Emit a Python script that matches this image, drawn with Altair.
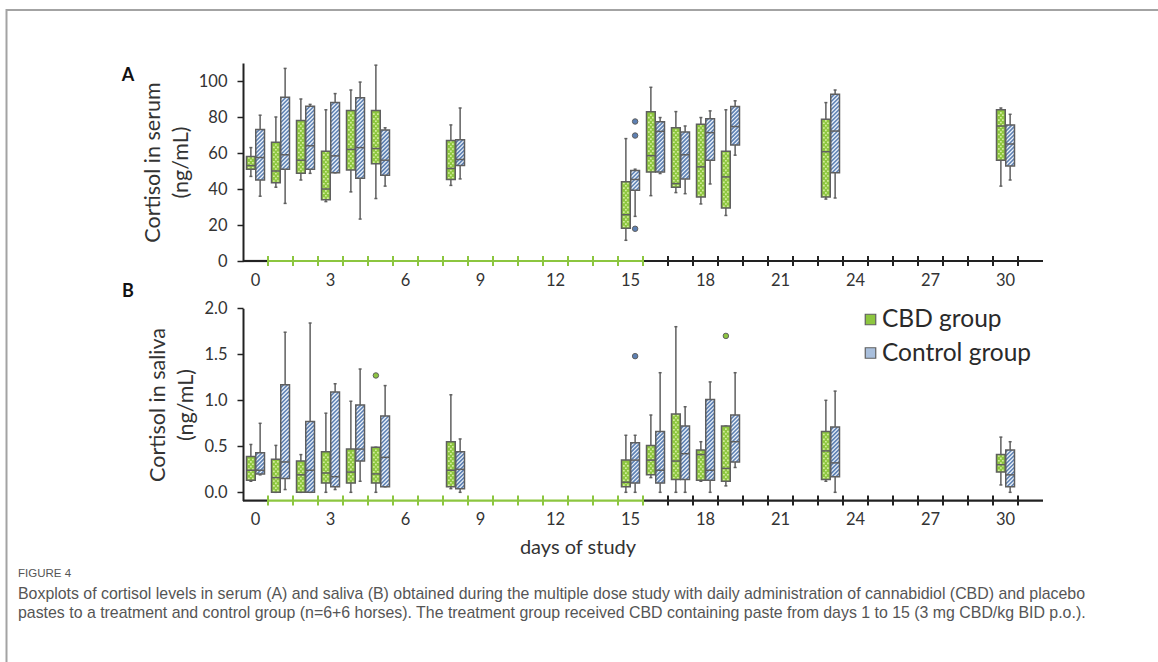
import altair as alt
import pandas as pd

# ---------------------------------------------------------------------------
# Sampling days and groups
# ---------------------------------------------------------------------------
DAYS = [0, 1, 2, 3, 4, 5, 8, 15, 16, 17, 18, 19, 23, 30]
GROUPS = ["CBD group", "Control group"]
TREATMENT_DAYS = list(range(1, 16))  # CBD paste given on days 1..15
X_LABELS = [0, 3, 6, 9, 12, 15, 18, 21, 24, 27, 30]

# ---- Serum cortisol (ng/mL): whisker low, Q1, median, Q3, whisker high ----
serum_cbd_low = [47, 41, 45, 33, 38.4, 34.7, 42, 11.5, 36.3, 38, 31.7, 25.3, 34.4, 41.6]
serum_cbd_q1 = [51, 43.5, 48.7, 34, 50.6, 54, 45.3, 18.2, 49.4, 41, 35.6, 29.4, 35.6, 56]
serum_cbd_med = [53, 50, 56, 40, 62, 62.5, 51.4, 25.7, 58.5, 43, 52.3, 46.7, 60.7, 75]
serum_cbd_q3 = [58, 66, 78, 61, 83.6, 83.6, 67, 44, 82.9, 74, 76, 61, 78.8, 84]
serum_cbd_high = [63, 80, 90, 84, 95, 108.8, 75.6, 68, 96.5, 83, 79.7, 84, 88, 85]

serum_ctl_low = [36, 32, 48.7, 49, 23.3, 41.6, 45.6, 24.8, 48.6, 37.4, 42.8, 58.8, 35, 45]
serum_ctl_q1 = [45, 51, 51, 49, 46, 47.6, 53, 39.3, 49.4, 45.6, 56, 64.4, 49, 52.8]
serum_ctl_med = [57.5, 59, 64, 58.4, 63, 56, 56.4, 45.3, 72, 59, 71.3, 74.7, 72.2, 65]
serum_ctl_q3 = [73, 91, 86, 88, 90.7, 72.8, 67.4, 50.3, 77.3, 71.7, 79, 85.8, 92.7, 75.6]
serum_ctl_high = [81, 107, 87, 93, 99.4, 74, 85, 51, 79.7, 75, 83.4, 89, 95, 81.5]

serum_out_day = [15, 15, 15]
serum_out_group = ["Control group", "Control group", "Control group"]
serum_out_value = [77.5, 69.7, 17.9]

# ---- Saliva cortisol (ng/mL) ----
saliva_cbd_low = [0.12, 0, 0, 0, 0, 0, 0.04, 0, 0.16, 0, 0.12, 0.07, 0.12, 0.08]
saliva_cbd_q1 = [0.13, 0, 0, 0.1, 0.1, 0.1, 0.06, 0.06, 0.19, 0.14, 0.13, 0.12, 0.14, 0.22]
saliva_cbd_med = [0.24, 0.16, 0.19, 0.21, 0.22, 0.2, 0.24, 0.11, 0.35, 0.34, 0.41, 0.26, 0.45, 0.3]
saliva_cbd_q3 = [0.39, 0.36, 0.34, 0.44, 0.47, 0.49, 0.55, 0.35, 0.51, 0.85, 0.46, 0.72, 0.66, 0.41]
saliva_cbd_high = [0.52, 0.51, 0.41, 0.86, 0.99, 0.49, 1.06, 0.62, 0.84, 1.8, 0.55, 0.72, 1.0, 0.6]

saliva_ctl_low = [0.19, 0.03, 0, 0.03, 0.12, 0.06, 0, 0, 0, 0, 0, 0.27, 0, 0]
saliva_ctl_q1 = [0.2, 0.15, 0, 0.06, 0.34, 0.06, 0.04, 0.1, 0.1, 0.14, 0.13, 0.33, 0.17, 0.06]
saliva_ctl_med = [0.24, 0.33, 0.24, 0.17, 0.47, 0.38, 0.25, 0.35, 0.24, 0.42, 0.24, 0.55, 0.32, 0.19]
saliva_ctl_q3 = [0.43, 1.17, 0.77, 1.09, 0.95, 0.83, 0.44, 0.54, 0.66, 0.72, 1.01, 0.84, 0.71, 0.46]
saliva_ctl_high = [0.75, 1.74, 1.84, 1.18, 1.34, 1.16, 0.58, 0.62, 1.3, 0.93, 1.2, 1.3, 1.1, 0.55]

saliva_out_day = [5, 15, 19]
saliva_out_group = ["CBD group", "Control group", "CBD group"]
saliva_out_value = [1.27, 1.48, 1.7]

CAPTION_HEAD = "FIGURE 4"
CAPTION_LINES = [
    "Boxplots of cortisol levels in serum (A) and saliva (B) obtained during the multiple dose study "
    "with daily administration of cannabidiol (CBD) and placebo",
    "pastes to a treatment and control group (n=6+6 horses). The treatment group received CBD "
    "containing paste from days 1 to 15 (3 mg CBD/kg BID p.o.).",
]

# ---------------------------------------------------------------------------
# Layout / style
# ---------------------------------------------------------------------------
FONT = "Lato"
CAPTION_FONT = "Liberation Sans"
LEFT = 243          # left edge of the plotting area on the canvas
PLOT_W = 800
CANVAS_W, CANVAS_H = 1158, 662
X_DOMAIN = [-0.5, 31.5]
PX_DAY = PLOT_W / (X_DOMAIN[1] - X_DOMAIN[0])

Y_DOMAIN_A, Y_RANGE_A = [0, 110], [261, 63]
Y_DOMAIN_B, Y_RANGE_B = [-0.09, 2.0], [500.6, 308.3]

BOX_W = 0.35        # box width in days
GAP = 0.01
CAP = 0.06

GREEN = "#8dc63f"
GREEN_DOT = "#d8f0a4"
BLUE = "#5d80b3"
BLUE_STRIPE = "#eef3fa"
EDGE = "#5f5f5f"
AXIS_GREEN = "#8cc63f"
TEXT = "#333333"

xscale = alt.Scale(domain=X_DOMAIN, nice=False, zero=False)
fill_scale = alt.Scale(domain=GROUPS, range=[GREEN, BLUE])


def stats_frame(cbd, ctl):
    rows = []
    for grp, st in zip(GROUPS, (cbd, ctl)):
        low, q1, med, q3, high = st
        for i, d in enumerate(DAYS):
            if grp == GROUPS[0]:
                xl, xr = d - GAP - BOX_W, d - GAP
            else:
                xl, xr = d + GAP, d + GAP + BOX_W
            xc = (xl + xr) / 2
            rows.append(dict(day=d, group=grp, low=low[i], q1=q1[i], med=med[i],
                             q3=q3[i], high=high[i], xl=xl, xr=xr, xc=xc,
                             cl=xc - CAP, cr=xc + CAP))
    return pd.DataFrame(rows)


def outlier_frame(days, groups, values):
    xs = []
    for d, g in zip(days, groups):
        xs.append(d - GAP - BOX_W / 2 if g == GROUPS[0] else d + GAP + BOX_W / 2)
    return pd.DataFrame(dict(day=days, group=groups, value=values, x=xs))


def stripe_frame(df, ppu):
    """Diagonal hatching segments inside the control-group boxes."""
    rows = []
    for r in df[df.group == GROUPS[1]].itertuples():
        w = (r.xr - r.xl) * PX_DAY
        h = (r.q3 - r.q1) * ppu
        k = -w + 1.5
        while k < h:
            u0, u1 = max(0.0, -k), min(w, h - k)
            if u1 - u0 > 0.4:
                rows.append(dict(x=r.xl + u0 / PX_DAY, x2=r.xl + u1 / PX_DAY,
                                 y=r.q1 + (u0 + k) / ppu, y2=r.q1 + (u1 + k) / ppu))
            k += 4.0
    return pd.DataFrame(rows)


def dot_frame(df, ppu):
    """Dotted texture inside the CBD-group boxes."""
    rows = []
    for r in df[df.group == GROUPS[0]].itertuples():
        w = (r.xr - r.xl) * PX_DAY
        h = (r.q3 - r.q1) * ppu
        t, j = 1.7, 0
        while t <= h - 1.2:
            us = [w * 0.27, w * 0.73] if j % 2 == 0 else [w * 0.5]
            for u in us:
                rows.append(dict(x=r.xl + u / PX_DAY, y=r.q1 + t / ppu))
            t += 2.4
            j += 1
    return pd.DataFrame(rows)


def y_axis(values, title, fmt=None):
    kw = dict(orient="left", values=values, title=title, grid=False,
              domainColor="#222222", domainWidth=2, tickColor="#222222", tickWidth=1.5,
              tickSize=6, labelFontSize=16.5, labelColor=TEXT, labelPadding=10,
              labelFont=FONT, titleFont=FONT, titleFontSize=21.5, titleFontWeight="normal",
              titleColor=TEXT, titleLineHeight=28, titlePadding=6)
    if fmt:
        kw["format"] = fmt
    return alt.Axis(**kw)


def panel(stats, outliers, ydomain, yrange, axis):
    ppu = (yrange[0] - yrange[1]) / (ydomain[1] - ydomain[0])
    ysc = alt.Scale(domain=ydomain, range=yrange, nice=False, zero=False)

    def X(f):
        return alt.X(f"{f}:Q", scale=xscale, axis=None)

    def Y(f):
        return alt.Y(f"{f}:Q", scale=ysc, axis=axis)

    base = alt.Chart(stats)
    whisker = base.mark_rule(color=EDGE, strokeWidth=1.5).encode(
        x=X("xc"), y=Y("low"), y2="high")
    caps_low = base.mark_rule(color=EDGE, strokeWidth=1.5).encode(
        x=X("cl"), x2="cr", y=Y("low"))
    caps_high = base.mark_rule(color=EDGE, strokeWidth=1.5).encode(
        x=X("cl"), x2="cr", y=Y("high"))
    box = base.mark_rect().encode(
        x=X("xl"), x2="xr", y=Y("q1"), y2="q3",
        fill=alt.Fill("group:N", scale=fill_scale, legend=None))
    stripes = alt.Chart(stripe_frame(stats, ppu)).mark_rule(
        color=BLUE_STRIPE, strokeWidth=1.25).encode(
        x=X("x"), x2="x2", y=Y("y"), y2="y2")
    dots = alt.Chart(dot_frame(stats, ppu)).mark_square(
        size=2.6, color=GREEN_DOT, opacity=1).encode(x=X("x"), y=Y("y"))
    outline = base.mark_rect(fillOpacity=0, stroke=EDGE, strokeWidth=1.5).encode(
        x=X("xl"), x2="xr", y=Y("q1"), y2="q3")
    median = base.mark_rule(color=EDGE, strokeWidth=1.5).encode(
        x=X("xl"), x2="xr", y=Y("med"))
    pts = alt.Chart(outliers).mark_circle(size=30, opacity=1, stroke=EDGE,
                                          strokeWidth=1).encode(
        x=X("x"), y=Y("value"),
        fill=alt.Fill("group:N", scale=fill_scale, legend=None))
    return alt.layer(whisker, caps_low, caps_high, box, stripes, dots, outline,
                     median, pts)


def x_axis(y_line, y_labels):
    """Custom time axis: green segment/ticks over the treatment period."""
    first, last = TREATMENT_DAYS[0] - 0.5, TREATMENT_DAYS[-1] + 0.5
    seg = pd.DataFrame(dict(a=[X_DOMAIN[0], first, last], b=[first, last, X_DOMAIN[1]],
                            c=["#222222", AXIS_GREEN, "#222222"]))
    half_days = [d + 0.5 for d in range(0, int(X_DOMAIN[1]))]
    ticks = pd.DataFrame(dict(
        t=half_days,
        c=[AXIS_GREEN if first <= t <= last else "#222222" for t in half_days]))
    line = alt.Chart(seg).mark_rule(strokeWidth=2.2).encode(
        x=alt.X("a:Q", scale=xscale, axis=None), x2="b:Q",
        y=alt.value(y_line), color=alt.Color("c:N", scale=None))
    tk = alt.Chart(ticks).mark_rule(strokeWidth=2).encode(
        x=alt.X("t:Q", scale=xscale, axis=None),
        y=alt.value(y_line - 5), y2=alt.value(y_line + 5),
        color=alt.Color("c:N", scale=None))
    labels = alt.Chart(pd.DataFrame(dict(d=X_LABELS))).mark_text(
        fontSize=16.5, font=FONT, color=TEXT, baseline="middle").encode(
        x=alt.X("d:Q", scale=xscale, axis=None), y=alt.value(y_labels), text="d:Q")
    return [line, tk, labels]


def text(s, x, y, **kw):
    style = dict(font=FONT, color=TEXT, align="left", baseline="middle")
    style.update(kw)
    return alt.Chart(pd.DataFrame(dict(s=[s]))).mark_text(**style).encode(
        x=alt.value(x - LEFT), y=alt.value(y), text="s:N")


def swatch(x, y, fill):
    return alt.Chart(pd.DataFrame(dict(s=[0]))).mark_square(
        size=110, fill=fill, stroke=EDGE, strokeWidth=1.2, opacity=1).encode(
        x=alt.value(x - LEFT), y=alt.value(y))


serum = stats_frame(
    (serum_cbd_low, serum_cbd_q1, serum_cbd_med, serum_cbd_q3, serum_cbd_high),
    (serum_ctl_low, serum_ctl_q1, serum_ctl_med, serum_ctl_q3, serum_ctl_high))
saliva = stats_frame(
    (saliva_cbd_low, saliva_cbd_q1, saliva_cbd_med, saliva_cbd_q3, saliva_cbd_high),
    (saliva_ctl_low, saliva_ctl_q1, saliva_ctl_med, saliva_ctl_q3, saliva_ctl_high))

panel_a = panel(serum, outlier_frame(serum_out_day, serum_out_group, serum_out_value),
                Y_DOMAIN_A, Y_RANGE_A,
                y_axis([0, 20, 40, 60, 80, 100], ["Cortisol in serum", "(ng/mL)"]))
panel_b = panel(saliva, outlier_frame(saliva_out_day, saliva_out_group, saliva_out_value),
                Y_DOMAIN_B, Y_RANGE_B,
                y_axis([0, 0.5, 1.0, 1.5, 2.0], ["Cortisol in saliva", "(ng/mL)"], ".1f"))

frame_top = alt.Chart(pd.DataFrame(dict(s=[0]))).mark_rule(
    color="#a3a3a3", strokeWidth=2).encode(
    x=alt.value(6 - LEFT), x2=alt.value(CANVAS_W - LEFT), y=alt.value(10))
frame_left = alt.Chart(pd.DataFrame(dict(s=[0]))).mark_rule(
    color="#a3a3a3", strokeWidth=2).encode(
    x=alt.value(6.5 - LEFT), y=alt.value(9), y2=alt.value(CANVAS_H))

decor = (
    x_axis(Y_RANGE_A[0], 281)
    + x_axis(Y_RANGE_B[0], 520)
    + [
        text("A", 128, 76, fontSize=18, fontWeight="bold", color="#111111", align="center"),
        text("B", 128, 292, fontSize=18, fontWeight="bold", color="#111111", align="center"),
        text("days of study", 578, 548, fontSize=20, align="center"),
        swatch(870.5, 319.5, GREEN),
        swatch(870.5, 353, "#a9bfdc"),
        text("CBD group", 882, 320, fontSize=24.5, color="#2a2a2a"),
        text("Control group", 882, 354, fontSize=24.5, color="#2a2a2a"),
        frame_top,
        frame_left,
        text(CAPTION_HEAD, 18, 574, fontSize=11.5, color="#555555", font=CAPTION_FONT),
        text(CAPTION_LINES[0], 18, 594, fontSize=15.9, color="#555555", font=CAPTION_FONT),
        text(CAPTION_LINES[1], 18, 613, fontSize=15.9, color="#555555", font=CAPTION_FONT),
    ]
)

chart = alt.layer(panel_a, panel_b, *decor).resolve_scale(y="independent").properties(
    width=PLOT_W, height=CANVAS_H,
    autosize=alt.AutoSizeParams(type="none"),
    padding={"left": LEFT, "right": CANVAS_W - LEFT - PLOT_W, "top": 0, "bottom": 0},
    background="white",
).configure_view(strokeWidth=0)

chart.save("out.html", embed_options={"renderer": "svg", "actions": False})
